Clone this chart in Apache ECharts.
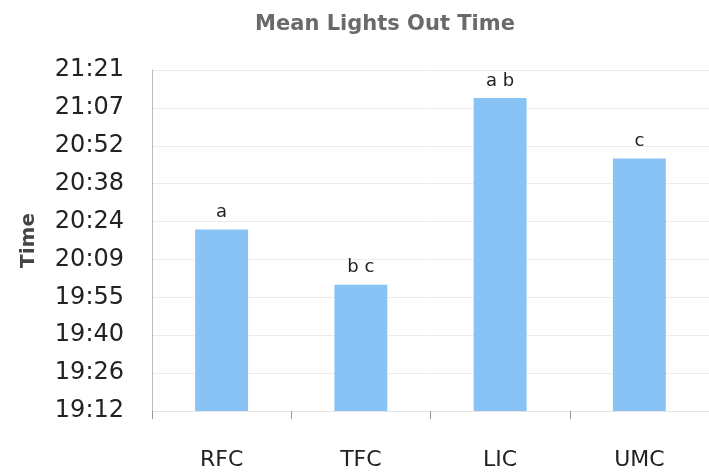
<!DOCTYPE html>
<html>
<head>
<meta charset="utf-8">
<script src="https://cdn.jsdelivr.net/npm/echarts@6/dist/echarts.min.js"></script>
<style>html,body{margin:0;padding:0;background:#fff;}#c{width:709px;height:475px;}</style>
</head>
<body>
<div id="c"></div>
<script>
var categories = ['RFC', 'TFC', 'LIC', 'UMC'];
var meanTimes = ['20:21', '20:00', '21:11', '20:48'];
var sigLetters = ['a', 'b c', 'a b', 'c'];
var yTickLabels = ['19:12', '19:26', '19:40', '19:55', '20:09', '20:24', '20:38', '20:52', '21:07', '21:21'];

function toDay(s) {
  var p = s.split(':');
  return (parseInt(p[0], 10) * 60 + parseInt(p[1], 10)) / 1440;
}
var values = meanTimes.map(toDay);

var chart = echarts.init(document.getElementById('c'));
chart.setOption({
  animation: false,
  backgroundColor: '#ffffff',
  title: {
    text: 'Mean Lights Out Time',
    left: 380,
    textAlign: 'center',
    top: 9,
    textStyle: { fontFamily: 'DejaVu Sans', fontWeight: 'bold', fontSize: 21, color: '#6a6a6a' }
  },
  grid: { left: 152, top: 70, width: 562, bottom: 64, containLabel: false },
  xAxis: {
    type: 'category',
    data: categories,
    axisLine: { show: true, lineStyle: { color: '#e4e4e4', width: 1 } },
    axisTick: { show: true, length: 8, lineStyle: { color: '#999' } },
    axisLabel: { margin: 38, fontFamily: 'DejaVu Sans', fontSize: 22, color: '#222' }
  },
  yAxis: {
    type: 'value',
    min: 0.8,
    max: 0.89,
    interval: 0.01,
    name: 'Time',
    nameLocation: 'middle',
    nameRotate: 90,
    nameGap: 113,
    nameTextStyle: { fontFamily: 'DejaVu Sans', fontWeight: 'bold', fontSize: 20, color: '#444' },
    axisLine: { show: true, lineStyle: { color: '#bbb', width: 1 } },
    axisTick: { show: false },
    splitLine: { show: true, lineStyle: { color: '#ececec', width: 1 } },
    axisLabel: {
      margin: 28,
      fontFamily: 'DejaVu Sans',
      fontSize: 24,
      color: '#222',
      padding: [4, 0, 0, 0],
      formatter: function (v, i) { return yTickLabels[i]; }
    }
  },
  series: [{
    type: 'bar',
    data: values,
    barWidth: '38%',
    itemStyle: { color: '#89c3f5' },
    label: {
      show: true,
      position: 'top',
      distance: 8,
      fontFamily: 'DejaVu Sans',
      fontSize: 18,
      color: '#222',
      formatter: function (p) { return sigLetters[p.dataIndex]; }
    }
  }]
});
</script>
</body>
</html>
